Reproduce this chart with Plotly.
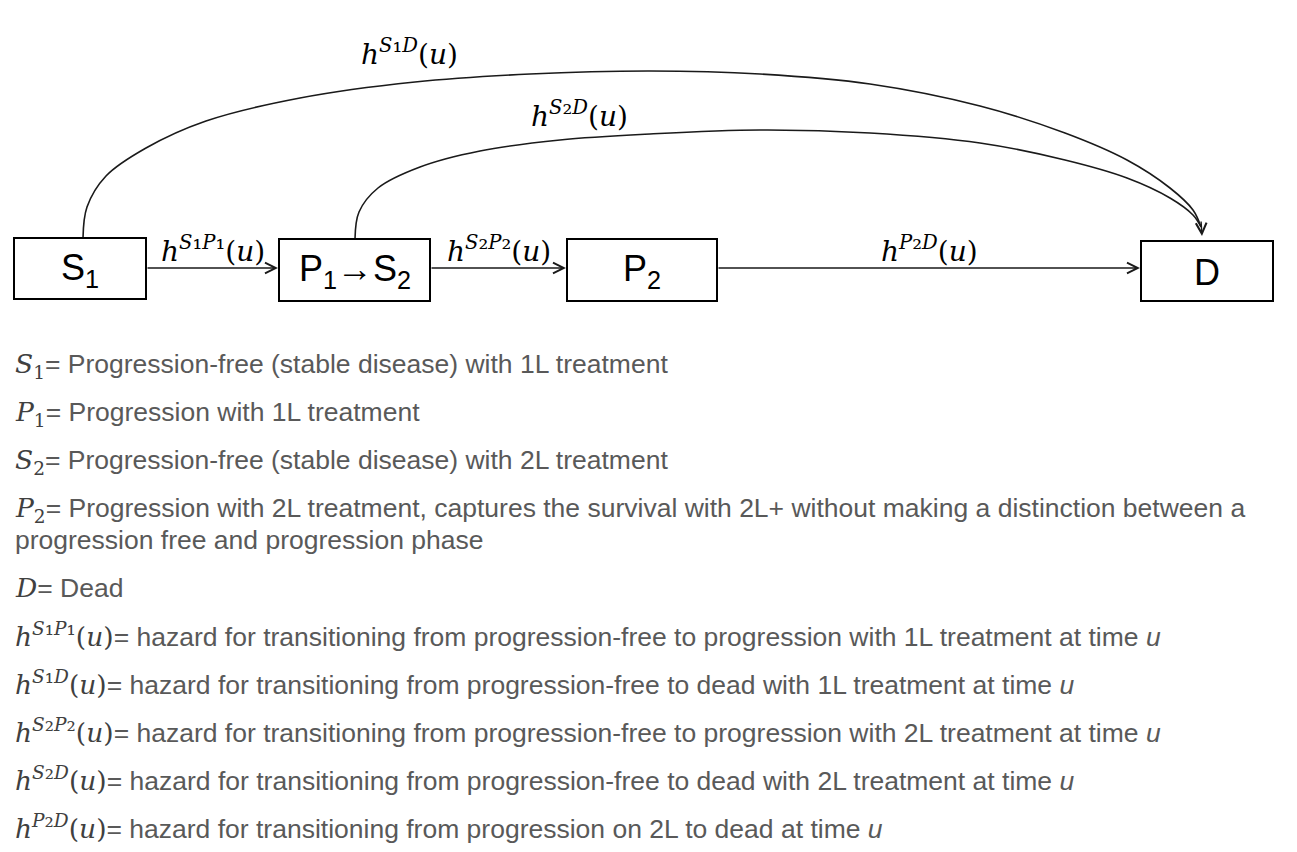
import plotly.graph_objects as go

# states of the model (label, box left, right, top, bottom)
states = ["S<sub>1</sub>", "P<sub>1</sub>→S<sub>2</sub>", "P<sub>2</sub>", "D"]
box_x0 = [14, 279, 567, 1141]
box_x1 = [146, 430, 717, 1273]
box_y0 = [238, 239, 239, 241]
box_y1 = [299, 301, 301, 301]

# small index digits used inside the superscripts
i1 = "<span style='font-size:125%'>₁</span>"
i2 = "<span style='font-size:125%'>₂</span>"

# straight transitions: from state index, to state index, hazard label
edges_from = [0, 1, 2]
edges_to = [1, 2, 3]
edge_labels = ["<i>h</i><sup><i>S</i>" + i1 + "<i>P</i>" + i1 + "</sup>(<i>u</i>)",
               "<i>h</i><sup><i>S</i>" + i2 + "<i>P</i>" + i2 + "</sup>(<i>u</i>)",
               "<i>h</i><sup><i>P</i>" + i2 + "<i>D</i></sup>(<i>u</i>)"]

# curved transitions to D
s1d_x = [83, 87, 106, 146, 206, 300, 415, 530, 650, 760, 870, 980, 1065, 1127, 1170, 1193, 1201]
s1d_y = [238, 207, 176, 148, 121, 98, 82, 74, 71, 74, 84, 106, 133, 160, 188, 210, 227]
s2d_x = [355, 359, 378, 420, 480, 560, 650, 760, 870, 980, 1065, 1127, 1170, 1193, 1201]
s2d_y = [239, 212, 188, 167, 151, 140, 134, 130, 133, 143, 160, 178, 198, 215, 227]
curve_labels = ["<i>h</i><sup><i>S</i>" + i1 + "<i>D</i></sup>(<i>u</i>)",
                "<i>h</i><sup><i>S</i>" + i2 + "<i>D</i></sup>(<i>u</i>)"]
curve_label_x = [409, 579]
curve_label_y = [50, 112]


def m(s):
    return "<span style='font-family:DejaVu Serif;color:#404040'>" + s + "</span>"


legend_lines = [
    m("<i>S</i><sub>1</sub>") + "= Progression-free (stable disease) with 1L treatment",
    m("<i>P</i><sub>1</sub>") + "= Progression with 1L treatment",
    m("<i>S</i><sub>2</sub>") + "= Progression-free (stable disease) with 2L treatment",
    m("<i>P</i><sub>2</sub>") + "= Progression with 2L treatment, captures the survival with 2L+ without making a distinction between a",
    "progression free and progression phase",
    m("<i>D</i>") + "= Dead",
    m(edge_labels[0]) + "= hazard for transitioning from progression-free to progression with 1L treatment at time <i>u</i>",
    m(curve_labels[0]) + "= hazard for transitioning from progression-free to dead with 1L treatment at time <i>u</i>",
    m(edge_labels[1]) + "= hazard for transitioning from progression-free to progression with 2L treatment at time <i>u</i>",
    m(curve_labels[1]) + "= hazard for transitioning from progression-free to dead with 2L treatment at time <i>u</i>",
    m(edge_labels[2]) + "= hazard for transitioning from progression on 2L to dead at time <i>u</i>",
]
legend_y = [365, 413, 461, 509, 540, 587, 632, 680, 728, 776, 824]

ink = "#1a1a1a"
fig = go.Figure()

# curves
for cx, cy in [(s1d_x, s1d_y), (s2d_x, s2d_y)]:
    fig.add_trace(go.Scatter(x=cx, y=cy, mode="lines", line=dict(color=ink, width=1.6, shape="spline", smoothing=1),
                             hoverinfo="skip", showlegend=False))

# boxes
for i, lab in enumerate(states):
    fig.add_shape(type="rect", x0=box_x0[i], x1=box_x1[i], y0=box_y0[i], y1=box_y1[i],
                  line=dict(color="black", width=2), fillcolor="white", layer="above")
    fig.add_annotation(x=(box_x0[i] + box_x1[i]) / 2, y=(box_y0[i] + box_y1[i]) / 2 + 1, text=lab,
                       showarrow=False, font=dict(family="Liberation Sans", size=36, color="black"))

# straight arrows
for f, t, lab in zip(edges_from, edges_to, edge_labels):
    ymid = 268
    fig.add_annotation(x=box_x0[t] - 1, y=ymid, ax=box_x1[f], ay=ymid, axref="x", ayref="y",
                       text="", showarrow=True, arrowhead=5, arrowsize=1.5, arrowwidth=1.4, arrowcolor=ink)
    fig.add_annotation(x=(box_x1[f] + box_x0[t]) / 2, y=247, text=lab, showarrow=False,
                       font=dict(family="DejaVu Serif", size=28, color="black"))

# arrow head of curves into D
fig.add_annotation(x=1202, y=236, ax=1201, ay=220, axref="x", ayref="y", text="", showarrow=True,
                   arrowhead=5, arrowsize=1.5, arrowwidth=1.4, arrowcolor=ink)
for lab, lx, ly in zip(curve_labels, curve_label_x, curve_label_y):
    fig.add_annotation(x=lx, y=ly, text=lab, showarrow=False,
                       font=dict(family="DejaVu Serif", size=28, color="black"))

# legend text
for txt, ly in zip(legend_lines, legend_y):
    fig.add_annotation(x=13, y=ly, xanchor="left", text=txt, showarrow=False,
                       font=dict(family="Liberation Sans", size=26.5, color="#595959"))

# page body has an 8px margin, so the axes start at 8 to keep page pixels == data units
fig.update_xaxes(range=[8, 1297], visible=False, fixedrange=True)
fig.update_yaxes(range=[852, 8], visible=False, fixedrange=True)
fig.update_layout(width=1289, height=844, margin=dict(l=0, r=0, t=0, b=0),
                  plot_bgcolor="white", paper_bgcolor="white")
fig.write_html("out.html")
